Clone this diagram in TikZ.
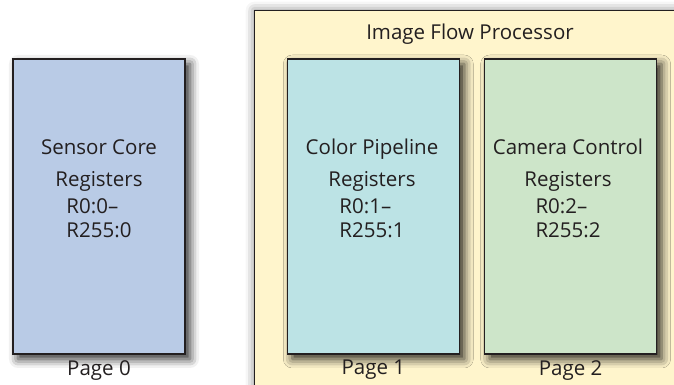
\documentclass[tikz,border=0pt]{standalone}
\usepackage{fontspec}
\setmainfont{Open Sans}
\usetikzlibrary{positioning}
\usetikzlibrary{shadows.blur}
\definecolor{inkgray}{HTML}{231F20}
\definecolor{sensorfill}{HTML}{B9CBE6}
\definecolor{colorfill}{HTML}{BCE3E5}
\definecolor{camerafill}{HTML}{CDE5C9}
\definecolor{ifpfill}{HTML}{FFF5CC}
\tikzset{every picture/.style={line width=1.3pt,x=1pt,y=1pt},
regbox/.style={draw=inkgray,minimum width=172pt,minimum height=295pt,inner sep=0pt,
  blur shadow={shadow xshift=5pt,shadow yshift=-5pt,shadow blur radius=9pt,shadow opacity=85}},
regtext/.style={align=center,text=inkgray,font=\fontsize{20.5}{24}\selectfont},
pagetext/.style={text=inkgray,font=\fontsize{20.5}{24}\selectfont,inner sep=0pt}}

\begin{document}
\begin{tikzpicture}
\useasboundingbox (0,0) rectangle (674,385);
\node (ifp) [draw=inkgray,fill=ifpfill,minimum width=440pt,minimum height=390pt,inner sep=0pt,anchor=north west,
  blur shadow={shadow xshift=0pt,shadow yshift=0pt,shadow blur radius=9pt,shadow opacity=55}] at (254,375) {};
\node (ifptitle) [pagetext] at (470,351) {Image Flow Processor};

\node (sensor) [regbox,fill=sensorfill] at (99,178.5) {};
\node (color) [regbox,fill=colorfill,right=101pt of sensor] {};
\node (camera) [regbox,fill=camerafill,right=24pt of color] {};

% register names
\node (sensortext) [regtext] at (99,193) {Sensor Core\\[8pt]Registers\\[4pt]\begin{tabular}{@{}l@{}}R0:0--\\R255:0\end{tabular}};
\node (colortext) [regtext] at (372,193) {Color Pipeline\\[8pt]Registers\\[4pt]\begin{tabular}{@{}l@{}}R0:1--\\R255:1\end{tabular}};
\node (cameratext) [regtext] at (568,193) {Camera Control\\[8pt]Registers\\[4pt]\begin{tabular}{@{}l@{}}R0:2--\\R255:2\end{tabular}};

\node (page0) [pagetext,below=5pt of sensor] {Page 0};
\node (page1) [pagetext,below=5pt of color] {Page 1};
\node (page2) [pagetext,below=5pt of camera] {Page 2};
\end{tikzpicture}
\end{document}
